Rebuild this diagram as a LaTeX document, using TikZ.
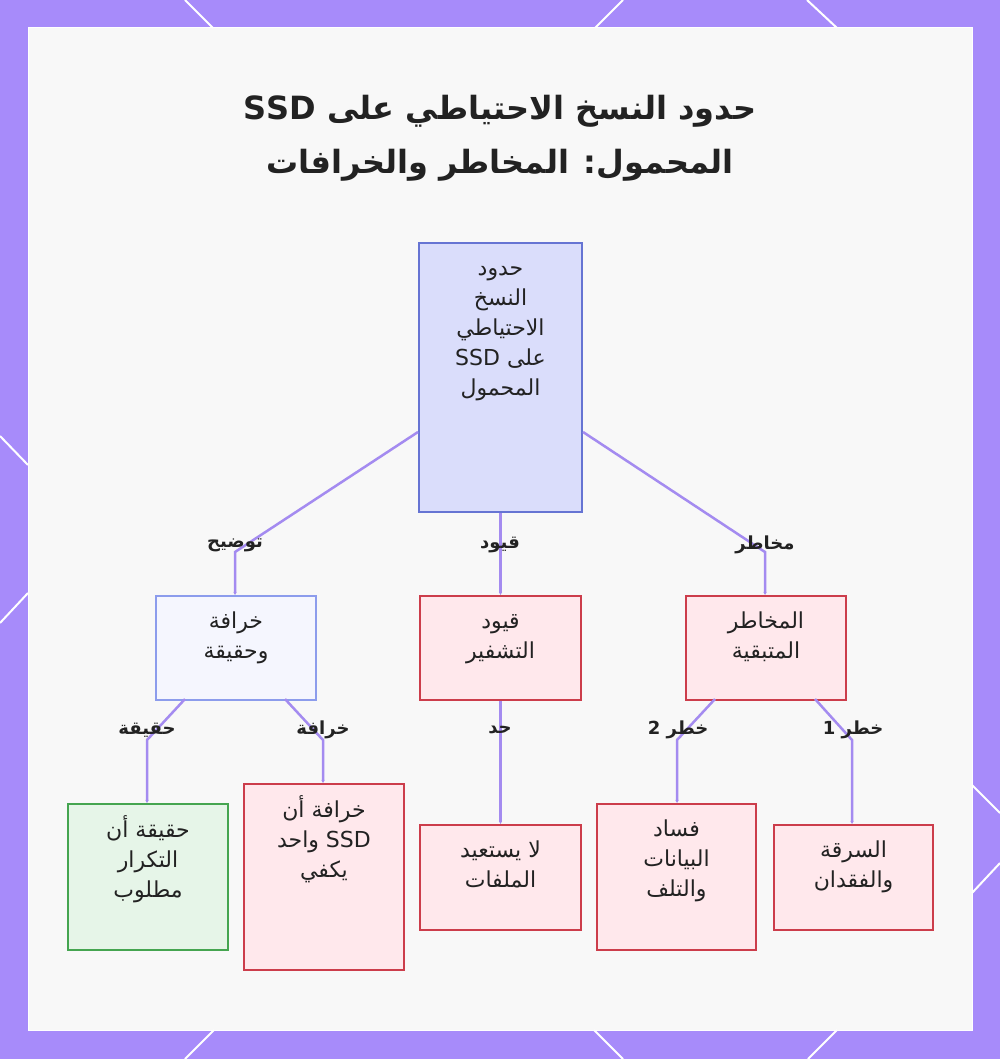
\documentclass[tikz,border=0pt]{standalone}
\usepackage{fontspec}
\setmainfont{DejaVu Sans}
\newfontfamily\arabicfont[Script=Arabic]{DejaVu Sans}
\TeXXeTstate=1
\usetikzlibrary{arrows.meta}
\definecolor{frame}{HTML}{A78BFA}
\definecolor{panel}{HTML}{F8F8F8}
\definecolor{conn}{HTML}{A48BF0}
\definecolor{rootfill}{HTML}{DADDFB}
\definecolor{rootdraw}{HTML}{6674D3}
\definecolor{lbfill}{HTML}{F5F6FE}
\definecolor{lbdraw}{HTML}{8C9CEC}
\definecolor{redfill}{HTML}{FFE8EC}
\definecolor{reddraw}{HTML}{CC3D4B}
\definecolor{grfill}{HTML}{E6F5E8}
\definecolor{grdraw}{HTML}{45A550}
\definecolor{ink}{HTML}{222222}
\newcommand{\ar}[1]{{\arabicfont\beginR #1\endR}}
\newcommand{\arl}[1]{{\arabicfont\beginR\strut #1\endR}}
\tikzset{
  boxbase/.style={rectangle, line width=2pt, inner sep=0pt, anchor=north west},
  rootbox/.style={boxbase, fill=rootfill, draw=rootdraw},
  bluebox/.style={boxbase, fill=lbfill, draw=lbdraw},
  redbox/.style={boxbase, fill=redfill, draw=reddraw},
  greenbox/.style={boxbase, fill=grfill, draw=grdraw},
  boxtext/.style={anchor=north, inner sep=0pt, align=center, text=ink,
    font=\fontsize{22}{30}\selectfont},
  edgelabel/.style={inner sep=0pt, text=ink, font=\fontsize{18}{20}\selectfont\bfseries},
  connector/.style={draw=conn, line width=2.5pt, -{Stealth[length=3pt,width=3pt]}},
  deco/.style={draw=white, line width=2pt}
}
\begin{document}
\begin{tikzpicture}[x=1pt,y=-1pt]
\useasboundingbox (0,0) rectangle (1000,1059);
% frame
\fill[frame] (0,0) rectangle (1000,1059);
\fill[panel] (28,28) rectangle (972,1030);
\draw[white, line width=1pt] (28,28) rectangle (972,1030);
% decorative diagonal lines
\draw[deco] (185,0) -- (213,28);
\draw[deco] (623,0) -- (595,28);
\draw[deco] (807,0) -- (837,28);
\draw[deco] (214,1030) -- (185,1059);
\draw[deco] (594,1030) -- (623,1059);
\draw[deco] (837,1030) -- (808,1059);
\draw[deco] (0,436) -- (28,465);
\draw[deco] (28,593) -- (0,623);
\draw[deco] (972,785) -- (1000,813);
\draw[deco] (1000,863) -- (972,893);
% title
\node[inner sep=0pt, align=center, text=ink, font=\fontsize{32}{54}\selectfont\bfseries] (title) at (500,138)
  {\ar{حدود النسخ الاحتياطي على SSD}\\\ar{المحمول: المخاطر والخرافات}};
% boxes
\node[rootbox, minimum width=163pt, minimum height=269pt] (root) at (418,242) {};
\node[bluebox, minimum width=160pt, minimum height=104pt] (myth) at (155,595) {};
\node[redbox, minimum width=161pt, minimum height=104pt] (enc) at (419,595) {};
\node[redbox, minimum width=160pt, minimum height=104pt] (risk) at (685,595) {};
\node[greenbox, minimum width=160pt, minimum height=146pt] (fact) at (67,803) {};
\node[redbox, minimum width=160pt, minimum height=186pt] (onessd) at (243,783) {};
\node[redbox, minimum width=161pt, minimum height=105pt] (norec) at (419,824) {};
\node[redbox, minimum width=159pt, minimum height=146pt] (corr) at (596,803) {};
\node[redbox, minimum width=159pt, minimum height=105pt] (theft) at (773,824) {};
% box texts
\node[boxtext] (roott) at ([yshift=-12pt]root.north)
  {\arl{حدود}\\\arl{النسخ}\\\arl{الاحتياطي}\\\arl{على SSD}\\\arl{المحمول}};
\node[boxtext] (mytht) at ([yshift=-12pt]myth.north) {\arl{خرافة}\\\arl{وحقيقة}};
\node[boxtext] (enct) at ([yshift=-12pt]enc.north) {\arl{قيود}\\\arl{التشفير}};
\node[boxtext] (riskt) at ([yshift=-12pt]risk.north) {\arl{المخاطر}\\\arl{المتبقية}};
\node[boxtext] (factt) at ([yshift=-12pt]fact.north) {\arl{حقيقة أن}\\\arl{التكرار}\\\arl{مطلوب}};
\node[boxtext] (onessdt) at ([yshift=-12pt]onessd.north) {\arl{خرافة أن}\\\arl{SSD واحد}\\\arl{يكفي}};
\node[boxtext] (norect) at ([yshift=-12pt]norec.north) {\arl{لا يستعيد}\\\arl{الملفات}};
\node[boxtext] (corrt) at ([yshift=-12pt]corr.north) {\arl{فساد}\\\arl{البيانات}\\\arl{والتلف}};
\node[boxtext] (theftt) at ([yshift=-12pt]theft.north) {\arl{السرقة}\\\arl{والفقدان}};
% bend coordinates
\coordinate (b1) at (235,552);
\coordinate (b2) at (765,552);
\coordinate (b3) at (147,740);
\coordinate (b4) at (323,740);
\coordinate (b5) at (677,740);
\coordinate (b6) at (852,740);
% connectors
\draw[connector] (root.west |- 0,432) -- (b1) -- (b1 |- myth.north);
\draw[connector] (root.south) -- (enc.north);
\draw[connector] (root.east |- 0,432) -- (b2) -- (b2 |- risk.north);
\draw[connector] (185,699) -- (b3) -- (b3 |- fact.north);
\draw[connector] (285,699) -- (b4) -- (b4 |- onessd.north);
\draw[connector] (enc.south) -- (norec.north);
\draw[connector] (715,699) -- (b5) -- (b5 |- corr.north);
\draw[connector] (815,699) -- (b6) -- (b6 |- theft.north);
% edge labels
\node[edgelabel] (l1) at (235,545) {\ar{توضيح}};
\node[edgelabel] (l2) at (500,545) {\ar{قيود}};
\node[edgelabel] (l3) at (765,545) {\ar{مخاطر}};
\node[edgelabel] (l4) at (147,730) {\ar{حقيقة}};
\node[edgelabel] (l5) at (323,730) {\ar{خرافة}};
\node[edgelabel] (l6) at (500,730) {\ar{حد}};
\node[edgelabel] (l7) at (678,730) {\ar{خطر 2}};
\node[edgelabel] (l8) at (853,730) {\ar{خطر 1}};
\end{tikzpicture}
\end{document}
